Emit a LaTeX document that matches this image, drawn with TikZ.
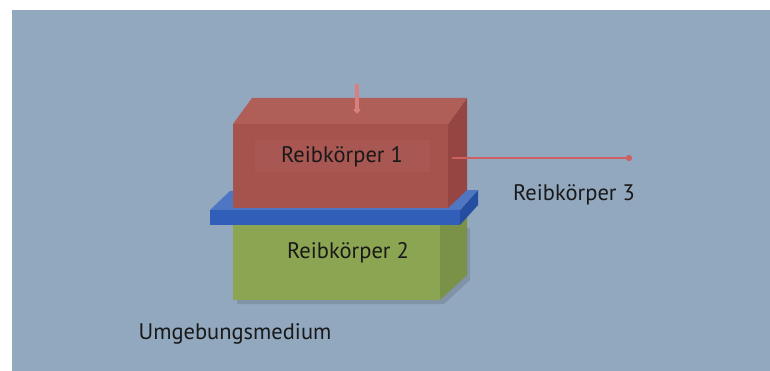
\documentclass[tikz,border=0pt]{standalone}
\usepackage{fontspec}
\setmainfont{PT Sans}
\usetikzlibrary{positioning,arrows.meta}
\definecolor{umgebung}{RGB}{146,168,191}
\definecolor{rotvorne}{RGB}{166,82,77}
\definecolor{rotoben}{RGB}{176,94,88}
\definecolor{rotseite}{RGB}{150,70,66}
\definecolor{gruenvorne}{RGB}{140,165,82}
\definecolor{gruenseite}{RGB}{122,146,72}
\definecolor{blauplatte}{RGB}{48,94,184}
\definecolor{blauseite}{RGB}{38,78,160}
\definecolor{kraft}{RGB}{206,96,96}
\tikzset{
	label/.style = {font=\fontsize{22.5}{26}\selectfont, text=black!90, inner sep=0pt},
	kraftpfeil/.style = {draw=kraft, line width=2.5pt, -{Circle[length=6pt]}}
}
\newcommand{\schatten}{\fill[black, opacity = 0.12] (237,228) -- (470,228) -- (470,280) -- (444,304) -- (237,304) -- cycle;}

\begin{document}
\begin{tikzpicture}[x=1pt, y=-1pt]
	\useasboundingbox (0,0) rectangle (770,371);
	\fill[white] (0,0) rectangle (770,371);
	\fill[umgebung] (12,10) rectangle (770,371);

	% Reibkoerper 2 (unten)
	\schatten
	\fill[gruenseite] (440,225) -- (467,205) -- (467,275) -- (440,300) -- cycle;
	\fill[gruenvorne] (233,225) rectangle (440,300);

	% Zwischenschicht
	\fill[blauseite] (460,210) -- (478,190) -- (478,205) -- (460,225) -- cycle;
	\fill[blauplatte!85!white] (210,210) -- (230,191) -- (478,190) -- (460,210) -- cycle;
	\fill[blauplatte] (210,210) rectangle (460,225);

	% Reibkoerper 1 (oben)
	\fill[rotseite] (448,124) -- (467,98) -- (467,190) -- (448,208) -- cycle;
	\fill[rotoben] (233,124) -- (252,98) -- (467,98) -- (448,124) -- cycle;
	\fill[rotvorne] (233,124) rectangle (448,208);
	\fill[white, opacity = 0.03] (255,140) rectangle (430,172);

	% Beschriftung
	\node[label] (rk1) at (342,157) {Reibkörper 1};
	\node[label] (rk2) at (348,253) {Reibkörper 2};
	\node[label] (rk3) at (574,195) {Reibkörper 3};
	\node[label] (medium) at (235,334) {Umgebungsmedium};

	% Kraefte
	\coordinate (nstart) at (357,84);
	\coordinate (nende) at (357,113);
	\coordinate (tstart) at (452,158);
	\coordinate (tende) at (632,158);
	\draw[kraftpfeil, draw=kraft!80!white, line width = 3.5pt] (nstart) -- (nende);
	\draw[kraftpfeil, line width = 2pt] (tstart) -- (tende);

\end{tikzpicture}
\end{document}
